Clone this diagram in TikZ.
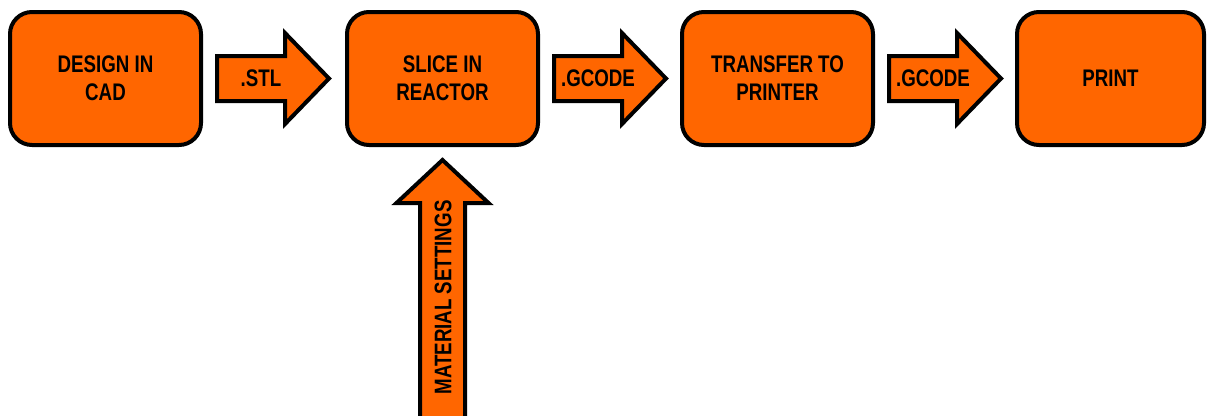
\documentclass[tikz,border=0pt]{standalone}
\usepackage{fontspec}
\setmainfont[FakeStretch=0.78]{Liberation Sans}
\usetikzlibrary{calc}
\definecolor{orng}{RGB}{255,102,0}
\begin{document}
\begin{tikzpicture}[x=1pt,y=-1pt,
  box/.style={draw=black, line width=4pt, fill=orng, rounded corners=22pt,
    minimum width=191pt, minimum height=133pt, align=center, inner sep=0pt,
    font=\bfseries\fontsize{24}{28}\selectfont, text=black},
  fat/.style={draw=black, line width=4pt, fill=orng, line join=miter},
  lbl/.style={font=\bfseries\fontsize{24}{28}\selectfont, inner sep=0pt, text=black}]
\useasboundingbox (0,0) rectangle (1207,415);
\node[box] (cad) at (105.5,78.5) {DESIGN IN\\CAD};
\node[box] (slice) at (442.5,78.5) {SLICE IN\\REACTOR};
\node[box] (transfer) at (777.5,78.5) {TRANSFER TO\\PRINTER};
\node[box, minimum width=187pt] (print) at (1110.5,78.5) {PRINT};
\foreach \a/\t in {cad/.STL, slice/.GCODE, transfer/.GCODE}{
  \draw[fat] ($(\a.east)+(14,0)$) ++(0,-22.5) -- ++(68,0) -- ++(0,-23)
    -- ++(44,45.5) -- ++(-44,45.5) -- ++(0,-23) -- ++(-68,0) -- cycle;
  \node[lbl] at ($(\a.east)+(58,0)$) {\t};
}
\coordinate (matin) at (442.5,423);
\draw[fat] ($(slice.south)+(0,13)$) -- ++(46,43) -- ++(-23.5,0) -- (465,423)
  -- (matin) -- (420,423) -- (420,203) -- (396.5,203) -- cycle;
\node[lbl, rotate=90] (matlbl) at (443,297.5) {MATERIAL SETTINGS};
\end{tikzpicture}
\end{document}
